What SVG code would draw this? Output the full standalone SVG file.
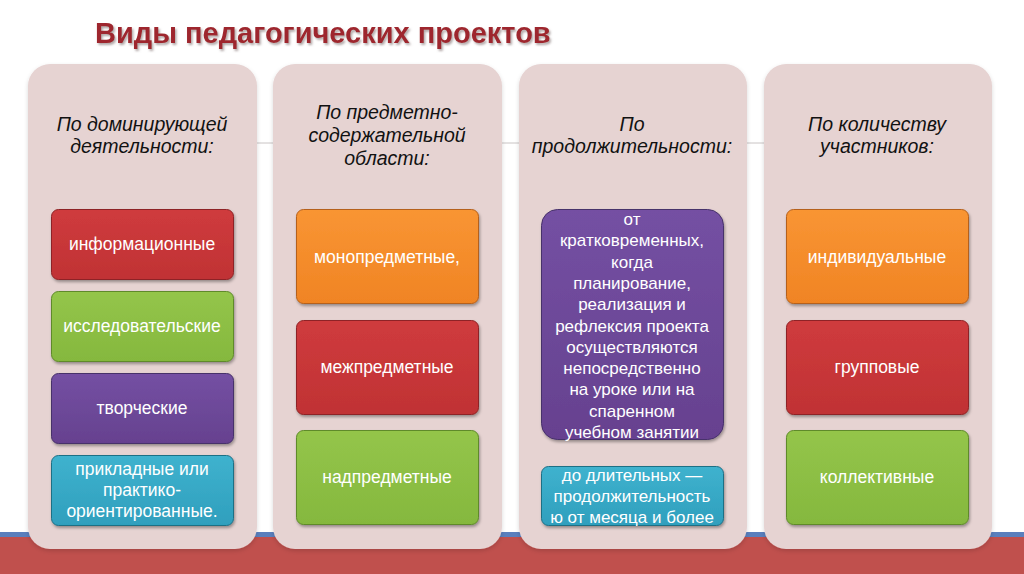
<svg xmlns="http://www.w3.org/2000/svg" width="1024" height="574" viewBox="0 0 1024 574">
<defs>
<filter id="sh" x="-10%" y="-10%" width="120%" height="130%">
<feDropShadow dx="1" dy="2" stdDeviation="1.5" flood-color="#000" flood-opacity="0.35"/>
</filter>
<filter id="psh" x="-10%" y="-10%" width="120%" height="120%">
<feDropShadow dx="0" dy="2" stdDeviation="2" flood-color="#000" flood-opacity="0.15"/>
</filter>
<filter id="tsh" x="-5%" y="-20%" width="110%" height="150%">
<feDropShadow dx="1.5" dy="2" stdDeviation="1.2" flood-color="#7a6a6a" flood-opacity="0.6"/>
</filter>
<linearGradient id="gr" x1="0" y1="0" x2="0" y2="1"><stop offset="0" stop-color="#cf3b3d"/><stop offset="1" stop-color="#c03234"/></linearGradient>
<linearGradient id="gg" x1="0" y1="0" x2="0" y2="1"><stop offset="0" stop-color="#94c54a"/><stop offset="1" stop-color="#85b83e"/></linearGradient>
<linearGradient id="gp" x1="0" y1="0" x2="0" y2="1"><stop offset="0" stop-color="#7450a3"/><stop offset="1" stop-color="#66418f"/></linearGradient>
<linearGradient id="gt" x1="0" y1="0" x2="0" y2="1"><stop offset="0" stop-color="#3fb2ce"/><stop offset="1" stop-color="#2f9fbd"/></linearGradient>
<linearGradient id="go" x1="0" y1="0" x2="0" y2="1"><stop offset="0" stop-color="#f99533"/><stop offset="1" stop-color="#f08424"/></linearGradient>
</defs>
<style>
.panel{fill:#e6d3d2;filter:url(#psh)}
.hd{font-family:"Liberation Sans",Arial,sans-serif;font-style:italic;font-size:19.5px;fill:#111;text-anchor:middle}
.bx{filter:url(#sh);stroke-width:1}
.red{fill:url(#gr);stroke:#8e2426}
.grn{fill:url(#gg);stroke:#5e8a2a}
.pur{fill:url(#gp);stroke:#47306a}
.teal{fill:url(#gt);stroke:#1f6f85}
.org{fill:url(#go);stroke:#b5601a}
.bt{font-family:"Liberation Sans",Arial,sans-serif;font-size:17.5px;fill:#fff;text-anchor:middle}
.bs{font-size:17px}
.ttl{font-family:"Liberation Sans",Arial,sans-serif;font-weight:bold;font-size:29px;fill:#9e282e;filter:url(#tsh)}
.conn{stroke:#c9c4c4;stroke-width:1;fill:none}
</style>
<rect x="0" y="0" width="1024" height="574" fill="#ffffff"/>
<rect x="0" y="532" width="1024" height="6" fill="#5a7fbd"/>
<rect x="0" y="537" width="1024" height="37" fill="#c0504d"/>
<text class="ttl" x="95" y="43">Виды педагогических проектов</text>
<g id="connectors">
<line class="conn" x1="40" y1="143" x2="980" y2="143"/>
</g>
<g id="col1">
<rect class="panel" x="28" y="64" width="229" height="485" rx="22"/>
<text class="hd" x="142" y="131">По доминирующей</text>
<text class="hd" x="142" y="153">деятельности:</text>
</g>
<g id="col1-info"><rect class="bx red" x="51.5" y="209.5" width="182" height="70" rx="7"/><text class="bt" x="142" y="250">информационные</text></g>
<g id="col1-research"><rect class="bx grn" x="51.5" y="291.5" width="182" height="70" rx="7"/><text class="bt" x="142" y="332">исследовательские</text></g>
<g id="col1-creative"><rect class="bx pur" x="51.5" y="373.5" width="182" height="70" rx="7"/><text class="bt" x="142" y="414">творческие</text></g>
<g id="col1-applied"><rect class="bx teal" x="51.5" y="455.5" width="182" height="70" rx="7"/>
<text class="bt" x="142" y="475">прикладные или</text><text class="bt" x="142" y="496">практико-</text><text class="bt" x="142" y="517">ориентированные.</text></g>
<g id="col2">
<rect class="panel" x="273" y="64" width="229" height="485" rx="22"/>
<text class="hd" x="387" y="119">По предметно-</text>
<text class="hd" x="387" y="142">содержательной</text>
<text class="hd" x="387" y="165">области:</text>
</g>
<g id="col2-mono"><rect class="bx org" x="296.5" y="209.5" width="182" height="94" rx="7"/><text class="bt" x="387" y="263">монопредметные,</text></g>
<g id="col2-inter"><rect class="bx red" x="296.5" y="320.5" width="182" height="94" rx="7"/><text class="bt" x="387" y="373">межпредметные</text></g>
<g id="col2-supra"><rect class="bx grn" x="296.5" y="430.5" width="182" height="94" rx="7"/><text class="bt" x="387" y="483">надпредметные</text></g>
<g id="col3">
<rect class="panel" x="519" y="64" width="228" height="485" rx="22"/>
<text class="hd" x="632" y="131">По</text>
<text class="hd" x="632" y="153">продолжительности:</text>
</g>
<g id="col3-short"><rect class="bx pur" x="541.5" y="209.5" width="182" height="230" rx="16"/>
<text class="bt bs" x="632" y="225">от</text>
<text class="bt bs" x="632" y="246.3">кратковременных,</text>
<text class="bt bs" x="632" y="267.6">когда</text>
<text class="bt bs" x="632" y="288.9">планирование,</text>
<text class="bt bs" x="632" y="310.2">реализация и</text>
<text class="bt bs" x="632" y="331.5">рефлексия проекта</text>
<text class="bt bs" x="632" y="352.8">осуществляются</text>
<text class="bt bs" x="632" y="374.1">непосредственно</text>
<text class="bt bs" x="632" y="395.4">на уроке или на</text>
<text class="bt bs" x="632" y="416.7">спаренном</text>
<text class="bt bs" x="632" y="438">учебном занятии</text>
</g>
<g id="col3-long"><rect class="bx teal" x="541.5" y="466.5" width="182" height="59" rx="7"/>
<text class="bt bs" x="632" y="481">до длительных —</text><text class="bt bs" x="632" y="502">продолжительность</text><text class="bt bs" x="632" y="523">ю от месяца и более</text></g>
<g id="col4">
<rect class="panel" x="764" y="64" width="228" height="485" rx="22"/>
<text class="hd" x="877" y="131">По количеству</text>
<text class="hd" x="877" y="153">участников:</text>
</g>
<g id="col4-ind"><rect class="bx org" x="786.5" y="209.5" width="182" height="94" rx="7"/><text class="bt" x="877" y="263">индивидуальные</text></g>
<g id="col4-group"><rect class="bx red" x="786.5" y="320.5" width="182" height="94" rx="7"/><text class="bt" x="877" y="373">групповые</text></g>
<g id="col4-coll"><rect class="bx grn" x="786.5" y="430.5" width="182" height="94" rx="7"/><text class="bt" x="877" y="483">коллективные</text></g>
</svg>
